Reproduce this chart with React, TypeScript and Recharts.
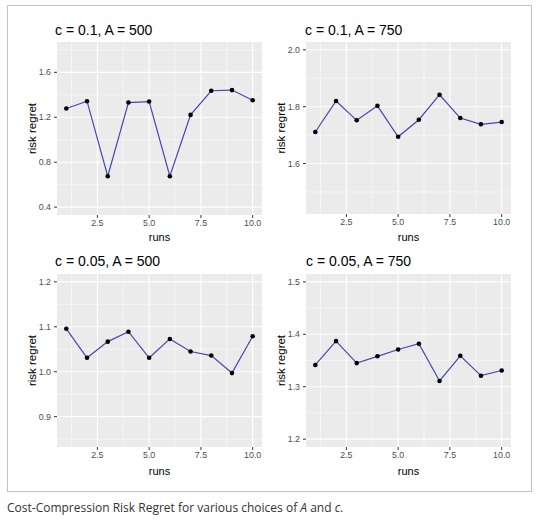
import React from 'react';
import { LineChart, Line, XAxis, YAxis, CartesianGrid } from 'recharts';

const runs = [1, 2, 3, 4, 5, 6, 7, 8, 9, 10];
const c01A500 = [1.278, 1.343, 0.675, 1.331, 1.34, 0.675, 1.221, 1.436, 1.442, 1.352];
const c01A750 = [1.711, 1.82, 1.752, 1.803, 1.694, 1.754, 1.842, 1.76, 1.738, 1.746];
const c005A500 = [1.0955, 1.031, 1.067, 1.089, 1.031, 1.073, 1.045, 1.036, 0.997, 1.079];
const c005A750 = [1.3415, 1.387, 1.345, 1.358, 1.371, 1.382, 1.311, 1.359, 1.321, 1.331];

const xTicks = [2.5, 5, 7.5, 10];
const xMinor = [1.25, 3.75, 6.25, 8.75];

const titles = ['c = 0.1, A = 500', 'c = 0.1, A = 750', 'c = 0.05, A = 500', 'c = 0.05, A = 750'];

const yTicks1 = [0.4, 0.8, 1.2, 1.6];
const yMinor1 = [0.6, 1.0, 1.4, 1.8];
const yTicks2 = [1.6, 1.8, 2.0];
const yMinor2 = [1.5, 1.7, 1.9];
const yTicks3 = [0.9, 1.0, 1.1, 1.2];
const yMinor3 = [0.85, 0.95, 1.05, 1.15];
const yTicks4 = [1.2, 1.3, 1.4, 1.5];
const yMinor4 = [1.25, 1.35, 1.45];

const AXW = 40;
const AXH = 20;
const font = "'Liberation Sans', Arial, sans-serif";

type PanelProps = {
  values: number[];
  plotLeft: number;
  plotTop: number;
  plotW: number;
  plotH: number;
  yDomain: [number, number];
  yTicks: number[];
  yMinor: number[];
};

const Panel = ({ values, plotLeft, plotTop, plotW, plotH, yDomain, yTicks, yMinor }: PanelProps) => {
  const data = runs.map((r, i) => ({ run: r, value: values[i] }));
  return (
    <div style={{ position: 'absolute', left: plotLeft - AXW, top: plotTop }}>
      <LineChart
        width={AXW + plotW}
        height={plotH + AXH}
        data={data}
        margin={{ top: 0, right: 0, bottom: 0, left: 0 }}
      >
        <CartesianGrid
          fill="#EBEBEB"
          stroke="#FFFFFF"
          strokeWidth={0.5}
          horizontalValues={yMinor}
          verticalValues={xMinor}
        />
        <CartesianGrid
          fill="none"
          stroke="#FFFFFF"
          strokeWidth={1.1}
          horizontalValues={yTicks}
          verticalValues={xTicks}
        />
        <XAxis
          dataKey="run"
          type="number"
          domain={[0.55, 10.45]}
          ticks={xTicks}
          tickFormatter={(v: number) => v.toFixed(1)}
          axisLine={false}
          tickLine={{ stroke: '#333333' }}
          tickSize={3}
          tickMargin={2}
          height={AXH}
          interval={0}
          tick={{ fill: '#4D4D4D', fontSize: 8.8, fontFamily: font }}
        />
        <YAxis
          type="number"
          domain={yDomain}
          ticks={yTicks}
          allowDataOverflow
          tickFormatter={(v: number) => v.toFixed(1)}
          axisLine={false}
          tickLine={{ stroke: '#333333' }}
          tickSize={3}
          tickMargin={3}
          width={AXW}
          interval={0}
          tick={{ fill: '#4D4D4D', fontSize: 8.8, fontFamily: font }}
        />
        <Line
          type="linear"
          dataKey="value"
          stroke="#4646b4"
          strokeWidth={1.2}
          dot={{ r: 2.3, fill: '#000000', stroke: '#000000', strokeWidth: 0 }}
          activeDot={false}
          isAnimationActive={false}
        />
      </LineChart>
    </div>
  );
};

export default function App() {
  const panels = [
    { values: c01A500, plotLeft: 57, plotTop: 42, plotW: 205, plotH: 173, yDomain: [0.33, 1.87] as [number, number], yTicks: yTicks1, yMinor: yMinor1 },
    { values: c01A750, plotLeft: 306, plotTop: 42, plotW: 205, plotH: 172, yDomain: [1.4225, 2.0275] as [number, number], yTicks: yTicks2, yMinor: yMinor2 },
    { values: c005A500, plotLeft: 57, plotTop: 274, plotW: 205, plotH: 173, yDomain: [0.8325, 1.2175] as [number, number], yTicks: yTicks3, yMinor: yMinor3 },
    { values: c005A750, plotLeft: 306, plotTop: 274, plotW: 205, plotH: 173, yDomain: [1.185, 1.515] as [number, number], yTicks: yTicks4, yMinor: yMinor4 },
  ];
  const titlePos = [
    { x: 55, y: 35 },
    { x: 305, y: 35 },
    { x: 55, y: 266 },
    { x: 306, y: 266 },
  ];
  const yLabelX = [36, 285, 36, 285];
  const runsY = [241, 241, 475, 475];

  return (
    <div style={{ position: 'absolute', left: 0, top: 0, width: 544, height: 524, background: '#ffffff' }}>
      <div
        style={{
          position: 'absolute',
          left: 7,
          top: 5,
          width: 525,
          height: 487,
          border: '1px solid #c4c4c4',
          boxSizing: 'border-box',
        }}
      />
      {panels.map((p, i) => (
        <Panel key={i} {...p} />
      ))}
      <svg
        width={544}
        height={500}
        style={{ position: 'absolute', left: 0, top: 0, pointerEvents: 'none' }}
      >
        {panels.map((p, i) => (
          <g key={i}>
            <text x={titlePos[i].x} y={titlePos[i].y} fontFamily={font} fontSize={14} fill="#000000">
              {titles[i]}
            </text>
            <text
              x={p.plotLeft + p.plotW / 2}
              y={runsY[i]}
              fontFamily={font}
              fontSize={11}
              fill="#000000"
              textAnchor="middle"
            >
              runs
            </text>
            <text
              x={yLabelX[i]}
              y={p.plotTop + p.plotH / 2}
              fontFamily={font}
              fontSize={11.5}
              fill="#000000"
              textAnchor="middle"
              transform={`rotate(-90 ${yLabelX[i]} ${p.plotTop + p.plotH / 2})`}
            >
              risk regret
            </text>
          </g>
        ))}
      </svg>
      <div
        style={{
          position: 'absolute',
          left: 7,
          top: 500,
          fontFamily: '"Open Sans", sans-serif',
          fontSize: 12,
          lineHeight: '16px',
          color: '#333333',
          whiteSpace: 'nowrap',
        }}
      >
        Cost-Compression Risk Regret for various choices of <i>A</i> and <i>c</i>.
      </div>
    </div>
  );
}
